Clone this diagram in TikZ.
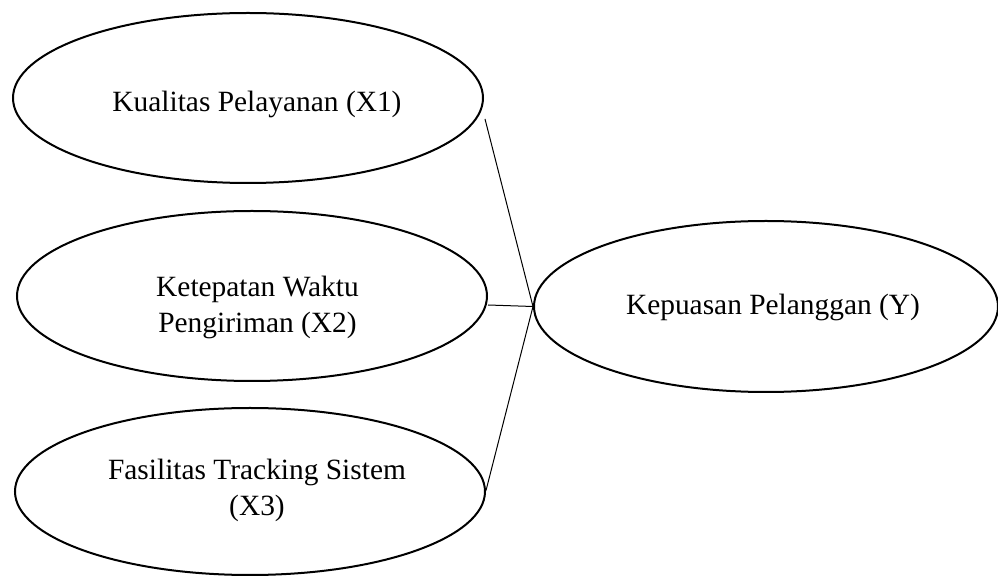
\documentclass[tikz,border=0pt]{standalone}
\usepackage{fontspec}
\setmainfont{Liberation Serif}
\usetikzlibrary{shapes.geometric}
\begin{document}
\begin{tikzpicture}[x=0.5pt,y=-0.5pt,
  var/.style={draw,ellipse,line width=1pt,inner sep=0pt,minimum width=235pt,minimum height=85pt},
  lbl/.style={inner sep=0pt,align=center,font=\fontsize{14.7pt}{18pt}\selectfont},
  link/.style={line width=0.5pt}]
\useasboundingbox (0,0) rectangle (998,577);
\node[var] (x1) at (248,98) {};
\node[var] (x2) at (252,296) {};
\node[var,minimum height=83.5pt] (x3) at (250,491.5) {};
\node[var,minimum width=232pt,minimum height=85.5pt] (y) at (766,306.5) {};
\node[lbl] (t1) at (257,104) {Kualitas Pelayanan (X1)};
\node[lbl] (t2) at (257.5,307) {Ketepatan Waktu\\Pengiriman (X2)};
\node[lbl] (t3) at (257,490) {Fasilitas Tracking Sistem\\(X3)};
\node[lbl] (ty) at (773,307) {Kepuasan Pelanggan (Y)};
\draw[link] ([xshift=0.5pt,yshift=-10.5pt]x1.east) -- (y.west);
\draw[link] ([yshift=-4.5pt]x2.east) -- (y.west);
\draw[link] ([yshift=0.5pt]x3.east) -- (y.west);
\end{tikzpicture}
\end{document}
